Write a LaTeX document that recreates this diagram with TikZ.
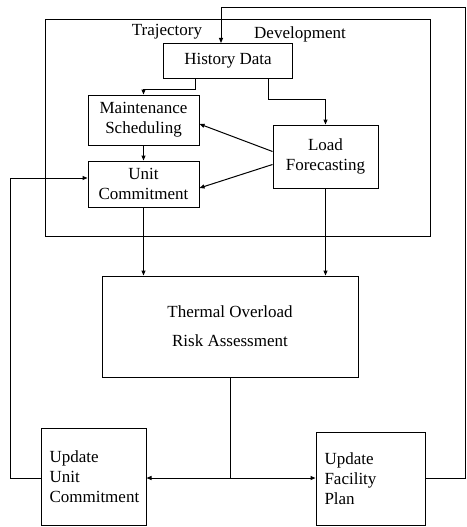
\documentclass[tikz,border=0pt]{standalone}
\usepackage{fontspec}
\setmainfont{Liberation Serif}
\usetikzlibrary{arrows.meta,positioning,calc}
\tikzset{
  blockbox/.style={draw, line width=1pt, align=center, inner sep=0pt,
    font=\fontsize{17}{20}\selectfont},
  leftbox/.style={blockbox, align=left, text width=#1},
  framebox/.style={draw, line width=1pt, inner sep=0pt},
  lbl/.style={font=\fontsize{17}{20}\selectfont, inner sep=0pt},
  arr/.style={-{Triangle[length=5pt,width=4pt]}, line width=1pt},
  ln/.style={line width=1pt}
}
\begin{document}
\begin{tikzpicture}[x=1pt,y=-1pt]
        \useasboundingbox (0,0) rectangle (466,527);
        \node[framebox, minimum width=385, minimum height=216] (traj) at (237.5,128) {};
        \node[lbl] (trajlbl) at (167,32) {Trajectory};
        \node[lbl] (devlbl) at (300,34) {Development};
        \node[blockbox, minimum width=129, minimum height=35] (hist) at (228,61) {History Data};
        \node[blockbox, minimum width=111, minimum height=50] (maint) at (143.5,120) {Maintenance\\Scheduling};
        \node[blockbox, minimum width=111, minimum height=46] (unit) at (143.5,184) {Unit\\Commitment};
        \node[blockbox, minimum width=105, minimum height=63] (load) at (325.5,156.5) {Load\\Forecasting};
        \node[blockbox, minimum width=256, minimum height=101,
          font=\fontsize{17}{29}\selectfont] (thermal) at (230,326.5) {Thermal Overload\\Risk Assessment};
        \node[leftbox=88pt, minimum width=105, minimum height=97] (upunit) at (93.5,476.5) {Update\\Unit\\Commitment};
        \node[leftbox=92pt, minimum width=109, minimum height=93] (upfac) at (370.5,478.5) {Update\\Facility\\Plan};
        \coordinate (split) at (230,478);
        \coordinate (fbl) at (10,478);
        \coordinate (fbr) at (465,8);
        \draw[arr] ([xshift=-33pt]hist.south) -- ++(0,10) -| (maint.north);
        \draw[arr] ([xshift=40pt]hist.south) -- ++(0,20) -| (load.north);
        \draw[arr] (maint.south) -- (unit.north);
        \draw[arr] ([yshift=5pt]load.west) -- ([yshift=-4pt]maint.east);
        \draw[arr] ([yshift=-8pt]load.west) -- ([yshift=-4pt]unit.east);
        \draw[arr] (unit.south) -- (unit.south |- thermal.north);
        \draw[arr] (load.south) -- (load.south |- thermal.north);
        \draw[ln] (thermal.south) -- (split);
        \draw[arr] (split) -- (split -| upunit.east);
        \draw[arr] (split) -- (split -| upfac.west);
        \draw[arr] (upunit.west |- fbl) -- (fbl) |- ([yshift=6pt]unit.west);
        \draw[arr] (upfac.east |- split) -| (fbr) -| ([xshift=-7pt]hist.north);
      \end{tikzpicture}
\end{document}
